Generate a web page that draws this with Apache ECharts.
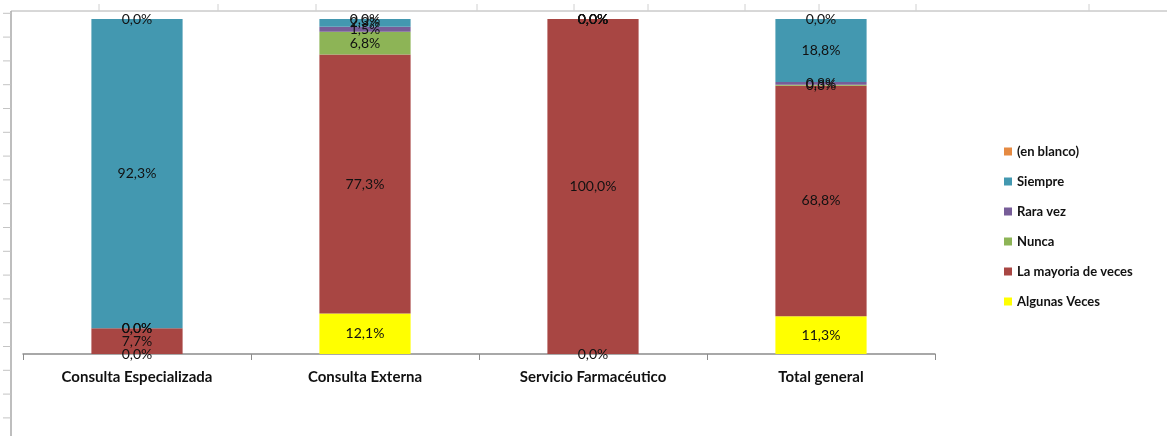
<!DOCTYPE html>
<html>
<head>
<meta charset="utf-8">
<script src="https://cdn.jsdelivr.net/npm/echarts@6/dist/echarts.min.js"></script>
<style>
html,body{margin:0;padding:0;background:#fff;}
#chart{width:1167px;height:436px;}
</style>
</head>
<body>
<div id="chart"></div>
<script>
var categories = ['Consulta Especializada', 'Consulta Externa', 'Servicio Farmacéutico', 'Total general'];
var algunasVeces = [0.0, 12.1, 0.0, 11.3];
var laMayoria   = [7.7, 77.3, 100.0, 68.8];
var nunca       = [0.0, 6.8, 0.0, 0.3];
var raraVez     = [0.0, 1.5, 0.0, 0.8];
var siempre     = [92.3, 2.3, 0.0, 18.8];
var enBlanco    = [0.0, 0.0, 0.0, 0.0];
var legendOrder = ['(en blanco)', 'Siempre', 'Rara vez', 'Nunca', 'La mayoria de veces', 'Algunas Veces'];

var FONT = 'Lato';
function pct(v) { return v.toFixed(1).replace('.', ',') + '%'; }

function mk(name, data, color) {
  return {
    name: name, type: 'bar', stack: 'total', data: data, barWidth: '40%',
    itemStyle: { color: color },
    label: {
      show: true, position: 'inside', color: '#111', fontFamily: FONT, fontSize: 14,
      formatter: function (p) { return pct(p.value); }
    },
    emphasis: { disabled: true }
  };
}

// decorative spreadsheet frame
var frame = [];
frame.push({ type: 'line', shape: { x1: 11, y1: 11, x2: 11, y2: 436 }, style: { stroke: '#a8a8a8', lineWidth: 1.5 } });
frame.push({ type: 'line', shape: { x1: 11, y1: 11, x2: 1167, y2: 11 }, style: { stroke: '#b0b0b0', lineWidth: 1 } });
for (var i = 0; i < 18; i++) {
  var y = 13.3 + i * 23.8;
  frame.push({ type: 'line', shape: { x1: 3, y1: y, x2: 11, y2: y }, style: { stroke: '#c4c4c4', lineWidth: 1 } });
}
[99, 218, 316, 477, 574, 648, 745, 819, 916, 1089].forEach(function (x) {
  frame.push({ type: 'line', shape: { x1: x, y1: 4, x2: x, y2: 11 }, style: { stroke: '#d0d0d0', lineWidth: 1 } });
});

var chart = echarts.init(document.getElementById('chart'));
chart.setOption({
  animation: false,
  backgroundColor: '#fff',
  graphic: frame,
  legend: {
    orient: 'vertical', left: 999, top: 140, itemGap: 17, itemWidth: 8, itemHeight: 8,
    icon: 'rect', data: legendOrder,
    textStyle: { fontFamily: FONT, fontSize: 13, color: '#111', fontWeight: 'bold' }
  },
  grid: { left: 23, right: 232, top: 19, bottom: 82, containLabel: false },
  xAxis: {
    type: 'category', data: categories,
    axisLine: { lineStyle: { color: '#8c8c8c', width: 1.5 } },
    axisTick: { show: true, length: 6, lineStyle: { color: '#8c8c8c' } },
    axisLabel: { fontFamily: FONT, fontSize: 15, fontWeight: 'bold', color: '#111', margin: 16 }
  },
  yAxis: {
    type: 'value', min: 0, max: 100, show: false
  },
  series: [
    mk('Algunas Veces', algunasVeces, '#FFFF00'),
    mk('La mayoria de veces', laMayoria, '#A84643'),
    mk('Nunca', nunca, '#8DB456'),
    mk('Rara vez', raraVez, '#775D98'),
    mk('Siempre', siempre, '#4398B0'),
    mk('(en blanco)', enBlanco, '#E58A42')
  ]
});
</script>
</body>
</html>
